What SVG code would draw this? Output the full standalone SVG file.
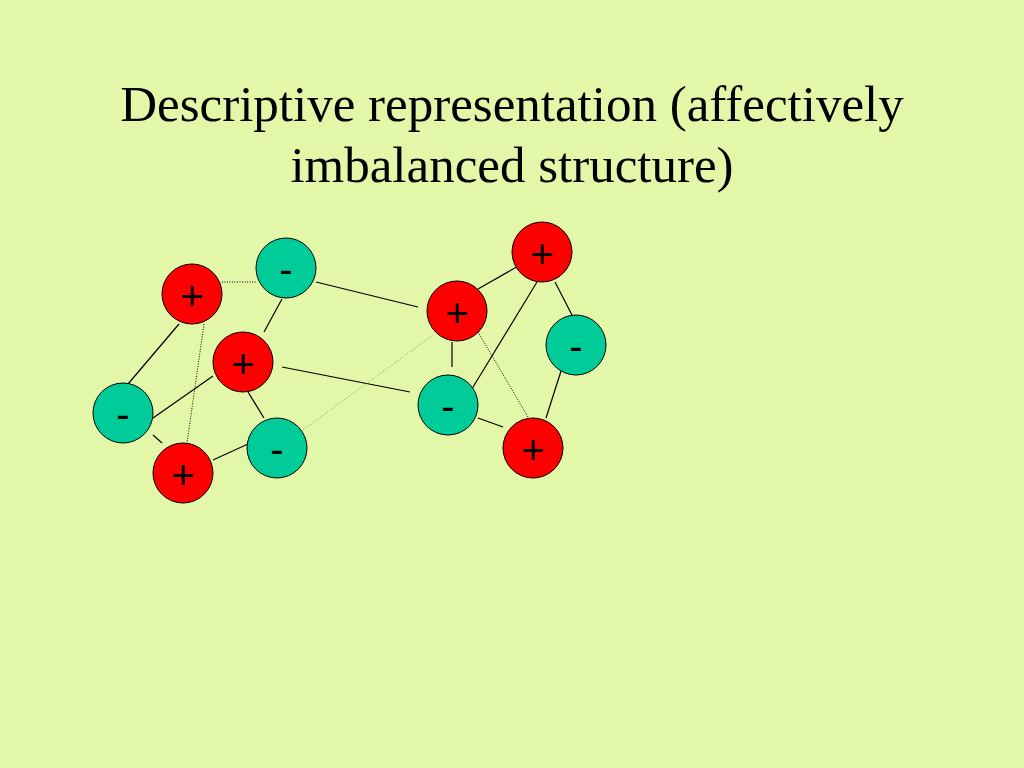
<svg xmlns="http://www.w3.org/2000/svg" width="1024" height="768" viewBox="0 0 1024 768">
<style>
.t{font-family:"Liberation Serif","Times New Roman",serif;font-size:51px;fill:#000;text-anchor:middle}
.pos circle{fill:#ff0000;stroke:#000;stroke-width:1}
.neg circle{fill:#00cc99;stroke:#000;stroke-width:1}
.lbl{font-family:"Liberation Sans",Arial,sans-serif;font-size:40px;fill:#000;text-anchor:middle}
.e{stroke:#000;stroke-width:1.2;fill:none}
.d{stroke:#000;stroke-width:1;stroke-dasharray:1 1.5;fill:none}
.f{stroke:#6a7a40;stroke-width:0.8;stroke-dasharray:1 2;fill:none}
</style>
<rect width="1024" height="768" fill="#e2f8a8"/>
<g id="title">
<text class="t" x="512" y="121">Descriptive representation (affectively</text>
<text class="t" x="512" y="182">imbalanced structure)</text>
</g>
<g id="connectors">
<line class="d" x1="222" y1="282" x2="256" y2="282"/>
<line class="e" x1="316" y1="282" x2="418" y2="307"/>
<line class="e" x1="282" y1="299" x2="264" y2="332"/>
<line class="e" x1="179" y1="324" x2="128" y2="384"/>
<line class="d" x1="204" y1="324" x2="187" y2="443"/>
<line class="e" x1="213" y1="376" x2="153" y2="418"/>
<line class="e" x1="248" y1="392" x2="264" y2="418"/>
<line class="e" x1="282" y1="367" x2="410" y2="392"/>
<line class="e" x1="153" y1="435" x2="162" y2="443"/>
<line class="e" x1="213" y1="460" x2="248" y2="444"/>
<line class="f" x1="303" y1="430" x2="433" y2="335"/>
<line class="e" x1="478" y1="289" x2="520" y2="265"/>
<line class="e" x1="537" y1="282" x2="470" y2="392"/>
<line class="e" x1="555" y1="282" x2="572" y2="315"/>
<line class="e" x1="452" y1="342" x2="452" y2="367"/>
<line class="d" x1="478" y1="332" x2="528" y2="417"/>
<line class="e" x1="478" y1="418" x2="503" y2="427"/>
<line class="e" x1="562" y1="368" x2="546" y2="418"/>
</g>
<g id="n1" class="pos"><circle cx="192" cy="294" r="30"/><text class="lbl" x="192" y="310">+</text></g>
<g id="n2" class="neg"><circle cx="286" cy="268" r="30"/><text class="lbl" x="286" y="283">-</text></g>
<g id="n3" class="pos"><circle cx="243" cy="362" r="30"/><text class="lbl" x="243" y="378">+</text></g>
<g id="n4" class="neg"><circle cx="123" cy="413" r="30"/><text class="lbl" x="123" y="428">-</text></g>
<g id="n5" class="pos"><circle cx="183" cy="473" r="30"/><text class="lbl" x="183" y="489">+</text></g>
<g id="n6" class="neg"><circle cx="277" cy="448" r="30"/><text class="lbl" x="277" y="463">-</text></g>
<g id="n7" class="pos"><circle cx="542" cy="252" r="30"/><text class="lbl" x="542" y="268">+</text></g>
<g id="n8" class="pos"><circle cx="457" cy="311" r="30"/><text class="lbl" x="457" y="327">+</text></g>
<g id="n9" class="neg"><circle cx="576" cy="345" r="30"/><text class="lbl" x="576" y="360">-</text></g>
<g id="n10" class="neg"><circle cx="448" cy="405" r="30"/><text class="lbl" x="448" y="420">-</text></g>
<g id="n11" class="pos"><circle cx="533" cy="448" r="30"/><text class="lbl" x="533" y="464">+</text></g>
</svg>
